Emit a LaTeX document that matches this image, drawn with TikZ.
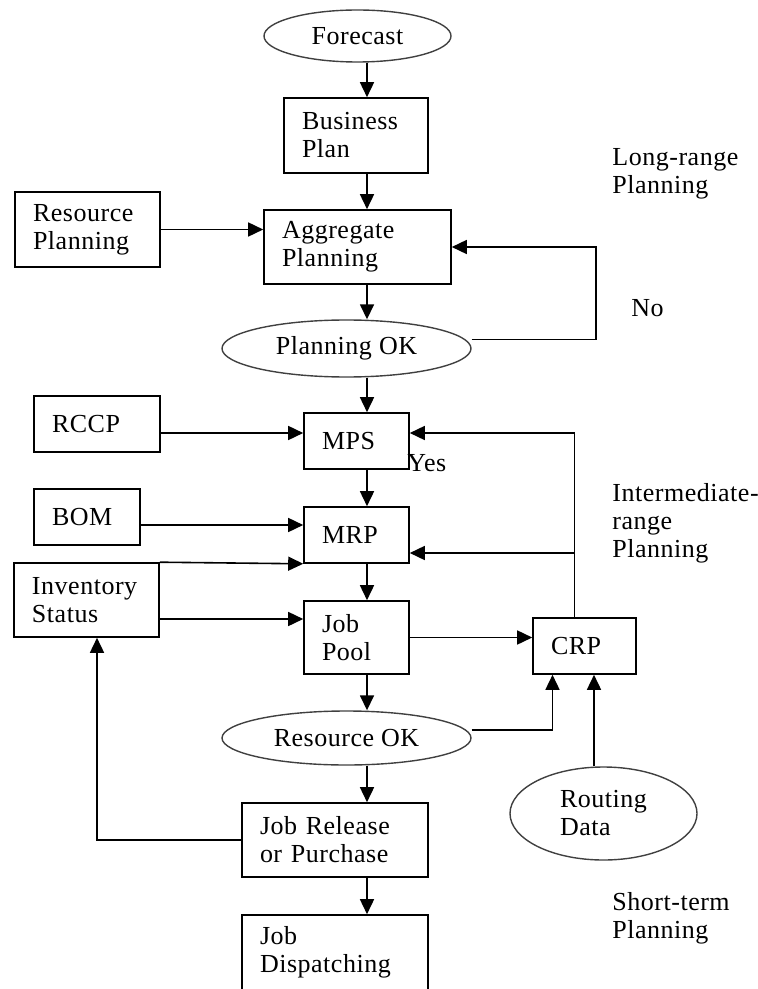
\documentclass[tikz,border=0pt]{standalone}
\usepackage{fontspec}
\setmainfont[LetterSpace=2]{Liberation Serif}
\usetikzlibrary{shapes.geometric,arrows.meta}
\tikzset{
	blk/.style 2 args={draw, line width=0.8pt, rectangle, align=left, inner xsep=9pt, inner ysep=2pt, text width=#1, minimum height=#2},
	oval/.style={draw=black!75, line width=0.7pt, ellipse, inner sep=0pt, align=center},
	arr/.style={line width=0.8pt, -{Triangle[length=7.5pt,width=7pt]}},
	lbl/.style={anchor=west, align=left, inner sep=0pt}
}

\begin{document}
\begin{tikzpicture}[x=0.5pt, y=-0.5pt, font=\fontsize{13}{14}\selectfont]
	\useasboundingbox (0,0) rectangle (758,989);
	\coordinate (spine) at (367,0);
	\coordinate (noloop) at (596,300);

	\node[oval, minimum width=93.5pt, minimum height=26pt] (fcast) at (357.5,36) {Forecast};
	\node[blk={54pt}{37.5pt}] (bplan) at (356,135.5) {Business\\Plan};
	\node[blk={75.5pt}{37pt}] (agg) at (357.5,247) {Aggregate\\Planning};
	\node[blk={54.5pt}{37.5pt}] (rplan) at (87.5,229.5) {Resource\\Planning};
	\node[oval, minimum width=124.5pt, minimum height=28.5pt] (pok) at (346.5,348.5) {Planning OK};
	\node[blk={34.5pt}{28pt}] (mps) at (356.5,441) {MPS};
	\node[blk={45pt}{28pt}] (rccp) at (97,424) {RCCP};
	\node[blk={35pt}{28pt}] (bom) at (87,517) {BOM};
	\node[blk={34.5pt}{28pt}] (mrp) at (356.5,535) {MRP};
	\node[blk={54.5pt}{37pt}] (inv) at (86.5,600) {Inventory\\Status};
	\node[blk={34.5pt}{36.5pt}] (jpool) at (356.5,637.5) {Job\\Pool};
	\node[blk={33.5pt}{28pt}] (crp) at (584.5,646) {CRP};
	\node[oval, minimum width=124.5pt, minimum height=27pt] (rok) at (346.5,738) {Resource OK};
	\node[oval, align=left, minimum width=93.5pt, minimum height=46.5pt] (rdata) at (603.5,813.5) {Routing\\Data};
	\node[blk={75pt}{37pt}] (jrel) at (335,840) {Job Release\\or Purchase};
	\node[blk={75pt}{37.5pt}] (jdisp) at (335,952.5) {Job\\Dispatching};

	\node[lbl] (longr) at (612,174) {Long-range\\Planning};
	\node[lbl] (no) at (631,308) {No};
	\node[lbl] (yes) at (407,463) {Yes};
	\node[lbl] (midr) at (612,523) {Intermediate-\\range\\Planning};
	\node[lbl] (shortr) at (612,918) {Short-term\\Planning};

	\draw[arr] (fcast.south -| spine) -- (bplan.north -| spine);
	\draw[arr] (bplan.south -| spine) -- (agg.north -| spine);
	\draw[arr] (agg.south -| spine) -- (pok.north -| spine);
	\draw[arr] (pok.south -| spine) -- (mps.north -| spine);
	\draw[arr] (mps.south -| spine) -- (mrp.north -| spine);
	\draw[arr] (mrp.south -| spine) -- (jpool.north -| spine);
	\draw[arr] (jpool.south -| spine) -- (rok.north -| spine);
	\draw[arr] (rok.south -| spine) -- (jrel.north -| spine);
	\draw[arr] (jrel.south -| spine) -- (jdisp.north -| spine);

	\draw[arr] (rplan.east) -- (rplan.east -| agg.west);
	\draw[arr] ([yshift=4.5pt]pok.east) -| (noloop) |- (agg.east);
	\draw[arr] ([yshift=-4.5pt]rccp.east) -- ([yshift=4pt]mps.west);
	\draw[arr] ([xshift=-5pt]crp.north) |- ([yshift=4pt]mps.east);
	\draw[arr] ([xshift=-5pt]crp.north) |- ([yshift=-9pt]mrp.east);
	\draw[arr] ([yshift=-4pt]bom.east) -- ([yshift=5pt]mrp.west);
	\draw[arr] (inv.north east) -- (mrp.south west);
	\draw[arr] ([yshift=-9.5pt]inv.east) -- ([yshift=9.25pt]jpool.west);
	\draw[arr] (jpool.east) -- (jpool.east -| crp.west);
	\draw[arr] ([yshift=4pt]rok.east) -| ([xshift=-16pt]crp.south);
	\draw[arr] ([xshift=-4.75pt]rdata.north) -- ([xshift=4.75pt]crp.south);
	\draw[arr] (jrel.west) -| ([xshift=5.25pt]inv.south);
\end{tikzpicture}
\end{document}
